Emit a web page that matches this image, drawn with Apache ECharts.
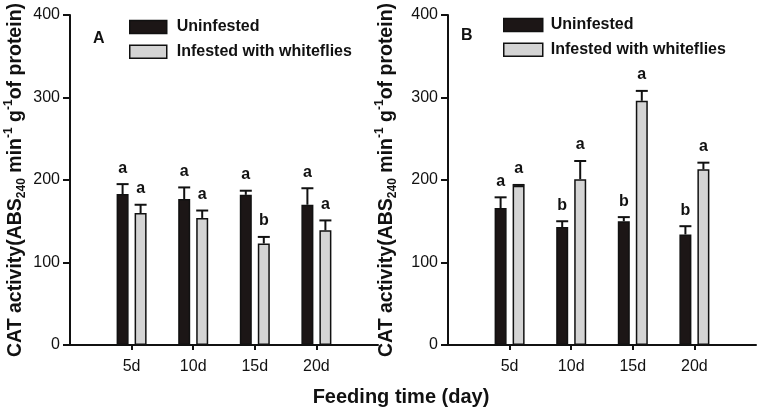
<!DOCTYPE html>
<html>
<head>
<meta charset="utf-8">
<script src="https://cdn.jsdelivr.net/npm/echarts@6/dist/echarts.min.js"></script>
<style>html,body{margin:0;padding:0;background:#fff;}#c{width:759px;height:408px;}</style>
</head>
<body>
<div id="c"></div>
<script>
// ---- data ----
var categories = ['5d', '10d', '15d', '20d'];
var seriesNames = ['Uninfested', 'Infested with whiteflies'];
var yTicks = [0, 100, 200, 300, 400];

var A_uninf = [183, 177, 182, 170];
var A_uninfErr = [12, 14, 5, 20];
var A_uninfLetters = ['a', 'a', 'a', 'a'];
var A_inf = [160, 154, 123, 139];
var A_infErr = [10, 9, 8, 12];
var A_infLetters = ['a', 'a', 'b', 'a'];

var B_uninf = [166, 143, 150, 134];
var B_uninfErr = [13, 7, 5, 10];
var B_uninfLetters = ['a', 'b', 'b', 'b'];
var B_inf = [193, 201, 296, 213];
var B_infErr = [1, 22, 12, 8];
var B_infLetters = ['a', 'a', 'a', 'a'];

// ---- build ----
var FONT = "'Liberation Sans', Arial, sans-serif";
var xCats = [''].concat(categories).concat(['']);
function pad(arr) { return [null].concat(arr).concat([null]); }
function errData(vals, errs, letters) {
  return vals.map(function (v, i) { return [i + 1, v, errs[i], letters[i]]; });
}
var BLACK = '#1c1616', GRAY = '#d4d4d4', EDGE = '#111111';
var BARW = 12, OFF = 9;

function errSeries(name, gi, vals, errs, letters, off) {
  return {
    type: 'custom', name: name + ' err', xAxisIndex: gi, yAxisIndex: gi, z: 5,
    data: errData(vals, errs, letters),
    renderItem: function (params, api) {
      var x = api.value(0), v = api.value(1), e = api.value(2);
      var letter = letters[params.dataIndex];
      var p0 = api.coord([x, v]);
      var p1 = api.coord([x, v + e]);
      var cx = p0[0] + off;
      return {
        type: 'group',
        children: [
          { type: 'line', shape: { x1: cx, y1: p0[1], x2: cx, y2: p1[1] }, style: { stroke: '#111', lineWidth: 2 } },
          { type: 'line', shape: { x1: cx - BARW / 2, y1: p1[1], x2: cx + BARW / 2, y2: p1[1] }, style: { stroke: '#111', lineWidth: 2 } },
          { type: 'text', x: cx, y: p1[1] - 8, style: { text: letter, fill: '#111', font: 'bold 16px ' + FONT, align: 'center', verticalAlign: 'bottom' } }
        ]
      };
    }
  };
}

function barSeries(name, gi, vals, color) {
  return {
    type: 'bar', name: name, xAxisIndex: gi, yAxisIndex: gi,
    data: pad(vals), barWidth: BARW, barGap: '50%',
    itemStyle: { color: color, borderColor: EDGE, borderWidth: 1.5 },
    emphasis: { disabled: true }
  };
}

var richName = {
  m: { fontSize: 19.5, fontWeight: 'bold', fontFamily: FONT, color: '#111', lineHeight: 25, verticalAlign: 'middle' },
  sub: { fontSize: 12, fontWeight: 'bold', fontFamily: FONT, color: '#111', lineHeight: 25, verticalAlign: 'bottom' },
  sup: { fontSize: 12, fontWeight: 'bold', fontFamily: FONT, color: '#111', lineHeight: 25, verticalAlign: 'top' }
};
var nameText = '{m|CAT activity(ABS}{sub|240}{m| min}{sup|-1}{m| g}{sup|-1}{m|of protein)}';

function xAxis(gi) {
  return {
    type: 'category', gridIndex: gi, data: xCats, boundaryGap: false,
    axisLine: { lineStyle: { color: '#111', width: 2 } },
    axisTick: { length: 5, lineStyle: { color: '#111', width: 2 }, interval: function (i, v) { return v !== ''; } },
    axisLabel: { fontSize: 16, fontFamily: FONT, color: '#111', margin: 14, interval: 0 },
    splitLine: { show: false }
  };
}
function yAxis(gi, gap) {
  return {
    type: 'value', gridIndex: gi, min: yTicks[0], max: yTicks[yTicks.length - 1], interval: 100,
    axisLine: { show: true, lineStyle: { color: '#111', width: 2 } },
    axisTick: { show: true, length: 7, lineStyle: { color: '#111', width: 2 } },
    axisLabel: { fontSize: 16, fontFamily: FONT, color: '#111', margin: 10 },
    splitLine: { show: false },
    name: nameText, nameLocation: 'middle', nameRotate: 90, nameGap: gap,
    nameTextStyle: { rich: richName }
  };
}
function legend(left, top, w, padL) {
  return {
    orient: 'vertical', left: left, top: top, padding: 0,
    itemWidth: w, itemHeight: 13, itemGap: 8.7, icon: 'rect',
    selectedMode: false,
    textStyle: { fontSize: 16, fontWeight: 'bold', fontFamily: FONT, color: '#111', padding: [0, 0, 0, padL] },
    data: [
      { name: seriesNames[0], itemStyle: { color: BLACK, borderColor: EDGE, borderWidth: 1.5 } },
      { name: seriesNames[1], itemStyle: { color: GRAY, borderColor: EDGE, borderWidth: 1.5 } }
    ]
  };
}

var chart = echarts.init(document.getElementById('c'), null, { renderer: 'canvas' });
chart.setOption({
  animation: false,
  backgroundColor: '#fff',
  grid: [
    { left: 70, top: 15, width: 308, height: 330 },
    { left: 448, top: 15, width: 309, height: 330 }
  ],
  xAxis: [xAxis(0), xAxis(1)],
  yAxis: [yAxis(0, 42), yAxis(1, 49)],
  legend: [legend(129, 19, 37, 5), legend(503, 17, 39, 3)],
  series: [
    barSeries(seriesNames[0], 0, A_uninf, BLACK),
    barSeries(seriesNames[1], 0, A_inf, GRAY),
    barSeries(seriesNames[0], 1, B_uninf, BLACK),
    barSeries(seriesNames[1], 1, B_inf, GRAY),
    errSeries(seriesNames[0], 0, A_uninf, A_uninfErr, A_uninfLetters, -OFF),
    errSeries(seriesNames[1], 0, A_inf, A_infErr, A_infLetters, OFF),
    errSeries(seriesNames[0], 1, B_uninf, B_uninfErr, B_uninfLetters, -OFF),
    errSeries(seriesNames[1], 1, B_inf, B_infErr, B_infLetters, OFF)
  ],
  graphic: [
    { type: 'text', left: 93, top: 31, style: { text: 'A', font: 'bold 16px ' + FONT, fill: '#111' } },
    { type: 'text', left: 461, top: 28, style: { text: 'B', font: 'bold 16px ' + FONT, fill: '#111' } },
    { type: 'text', x: 401, y: 397, style: { text: 'Feeding time (day)', font: 'bold 20px ' + FONT, fill: '#111', align: 'center', verticalAlign: 'middle' } }
  ]
});
</script>
</body>
</html>
